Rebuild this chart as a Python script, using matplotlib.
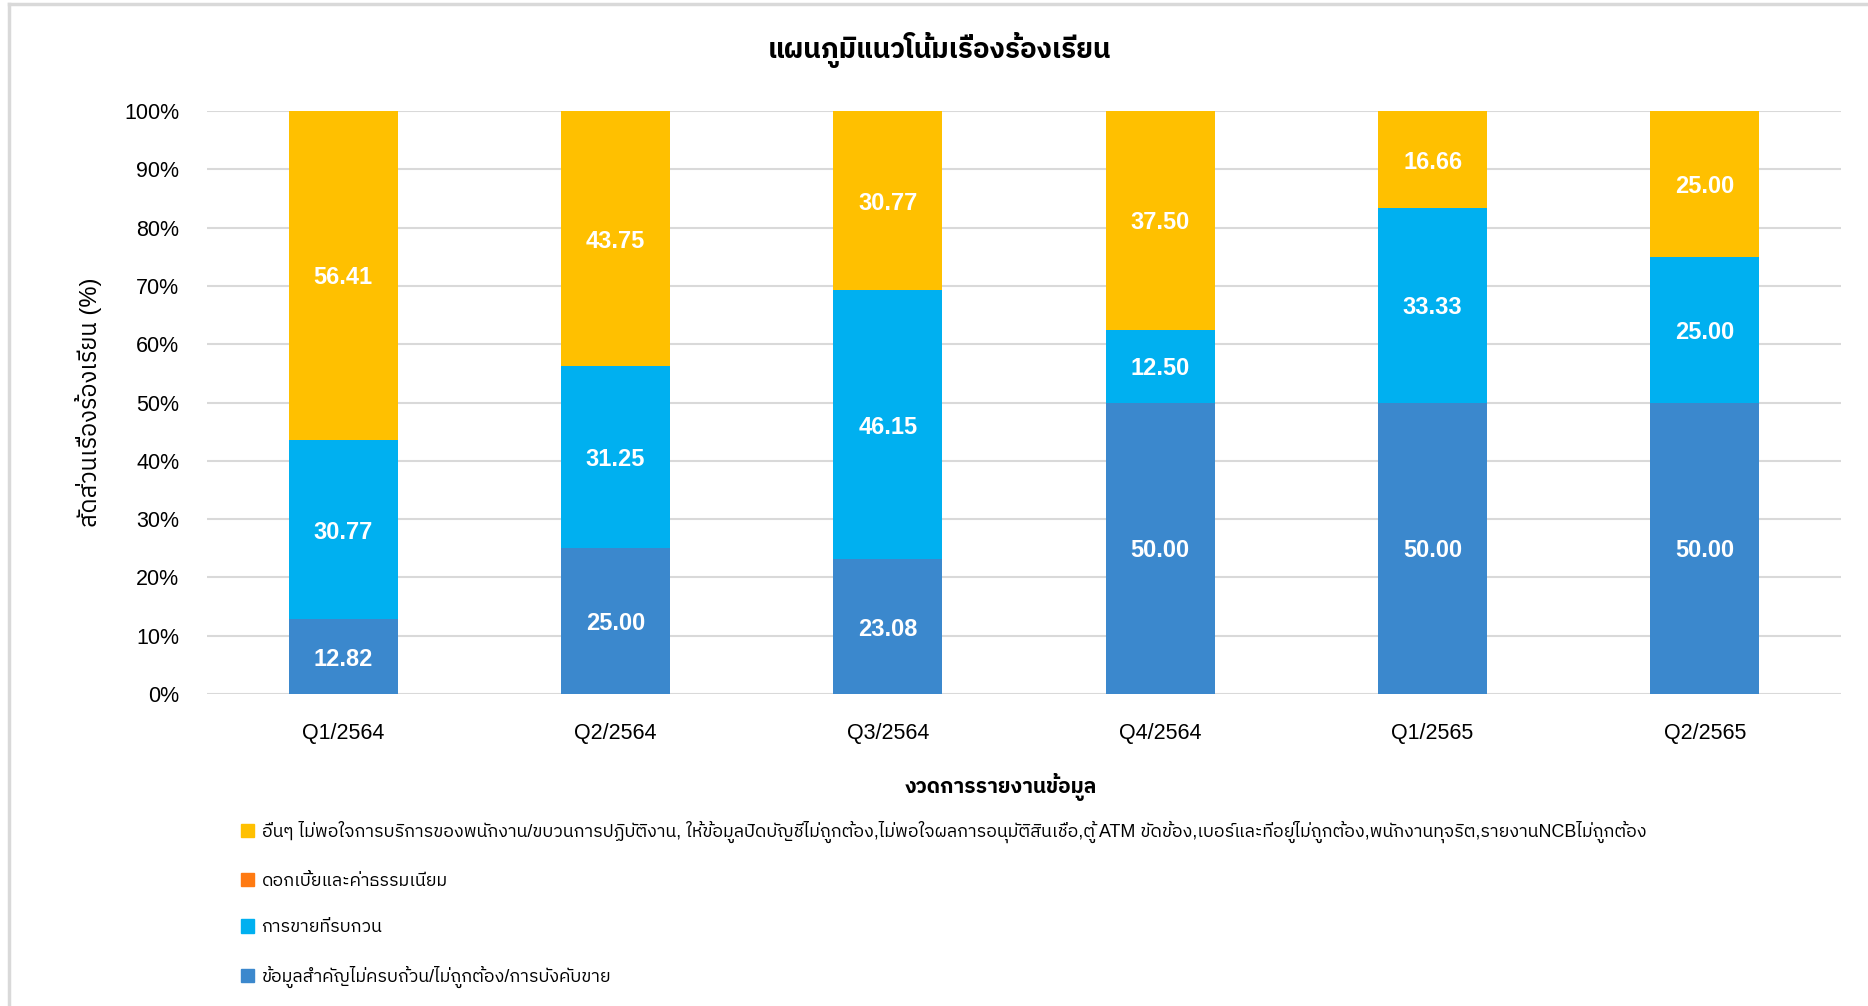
import matplotlib
matplotlib.use('Agg')
import matplotlib.pyplot as plt
from matplotlib.patches import Patch
from matplotlib.lines import Line2D
import numpy as np

plt.rcParams['font.family'] = ['Liberation Sans', 'IBM Plex Sans Thai', 'Noto Sans Thai', 'DejaVu Sans']

quarters = ['Q1/2564', 'Q2/2564', 'Q3/2564', 'Q4/2564', 'Q1/2565', 'Q2/2565']
info_wrong = [12.82, 25.00, 23.08, 50.00, 50.00, 50.00]
fees = [0, 0, 0, 0, 0, 0]
pushy_sales = [30.77, 31.25, 46.15, 12.50, 33.33, 25.00]
others = [56.41, 43.75, 30.77, 37.50, 16.66, 25.00]

labels = [
    'ข้อมูลสำคัญไม่ครบถ้วน/ไม่ถูกต้อง/การบังคับขาย',
    'การขายที่รบกวน',
    'ดอกเบี้ยและค่าธรรมเนียม',
    'อื่นๆ ไม่พอใจการบริการของพนักงาน/ขบวนการปฏิบัติงาน, ให้ข้อมูลปิดบัญชีไม่ถูกต้อง,'
    'ไม่พอใจผลการอนุมัติสินเชื่อ,ตู้ ATM ขัดข้อง,เบอร์และที่อยู่ไม่ถูกต้อง,'
    'พนักงานทุจริต,รายงานNCBไม่ถูกต้อง',
]
colors = ['#3B88CD', '#00B0F0', '#FF7A12', '#FFC000']

fig = plt.figure(figsize=(18.68, 10.06), dpi=100)
ax = fig.add_axes([0.1108, 0.3101, 0.8748, 0.5796])

x = np.arange(len(quarters))
series = [info_wrong, pushy_sales, fees, others]
bottom = np.zeros(len(quarters))
for vals, col in zip(series, colors):
    vals = np.array(vals, dtype=float)
    ax.bar(x, vals, width=0.4, bottom=bottom, color=col, zorder=3)
    for xi, b, v in zip(x, bottom, vals):
        if v > 0:
            ax.text(xi, b + v / 2, '%.2f' % v, ha='center', va='center_baseline',
                    color='white', fontsize=17, fontweight='bold', zorder=4)
    bottom += vals

ax.set_xlim(-0.5, len(quarters) - 0.5)
ax.set_ylim(0, 100)
ax.set_yticks(np.arange(0, 101, 10))
ax.set_yticklabels(['%d%%' % v for v in range(0, 101, 10)], fontsize=15.5)
ax.set_xticks(x)
ax.set_xticklabels(quarters, fontsize=15.5)
ax.tick_params(axis='y', length=0, pad=20)
ax.tick_params(axis='x', length=0, pad=21)
ax.grid(axis='y', color='#d9d9d9', lw=1.5, zorder=0)
for s in ax.spines.values():
    s.set_visible(False)

ax.set_ylabel('สัดส่วนเรื่องร้องเรียน (%)', fontsize=17, labelpad=16)
fig.text(0.536, 0.218, 'งวดการรายงานข้อมูล', ha='center', va='center',
         fontsize=15, fontweight='bold')
fig.text(0.503, 0.950, 'แผนภูมิแนวโน้มเรื่องร้องเรียน', ha='center', va='center',
         fontsize=20, fontweight='bold')

handles = [Patch(color=c) for c in colors][::-1]
fig.legend(handles, labels[::-1], loc='upper left', bbox_to_anchor=(0.129, 0.184),
           frameon=False, fontsize=12.9, handlelength=0.75, handleheight=0.75,
           handletextpad=0.4, labelspacing=1.65, borderaxespad=0, borderpad=0)

# light frame around the chart
fig.add_artist(Line2D([0.005, 0.005], [0, 0.996], color='#d9d9d9', lw=2.5))
fig.add_artist(Line2D([0.005, 1.0], [0.996, 0.996], color='#d9d9d9', lw=2.5))

fig.savefig('out.png')
